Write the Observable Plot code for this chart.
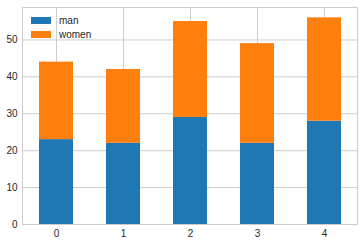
<!DOCTYPE html>
<html>
<head>
<meta charset="utf-8">
<script src="https://cdn.jsdelivr.net/npm/d3@7"></script>
<script src="https://cdn.jsdelivr.net/npm/@observablehq/plot@0.6"></script>
<style>
  html, body { margin: 0; padding: 0; background: #fff; }
  #wrap { position: relative; width: 363px; height: 244px; }
  .leg { position: absolute; left: 31px; top: 13px; font: 10px "Liberation Sans", Arial, sans-serif; color: #262626; }
  .leg div { display: flex; align-items: center; height: 14px; }
  .leg span.sw { display: inline-block; width: 20px; height: 7px; margin-right: 8px; }
</style>
</head>
<body>
<div id="wrap"></div>
<script>
const categories = ["0", "1", "2", "3", "4"];
const man = [23, 22, 29, 22, 28];
const women = [21, 20, 26, 27, 28];
const seriesNames = ["man", "women"];
const colors = ["#1f77b4", "#ff7f0e"];
const yTicks = [0, 10, 20, 30, 40, 50];

const data = [];
categories.forEach((c, i) => {
  data.push({cat: c, series: "man", value: man[i]});
  data.push({cat: c, series: "women", value: women[i]});
});

const chart = Plot.plot({
  width: 363,
  height: 244,
  marginLeft: 22,
  marginRight: 6,
  marginTop: 7,
  marginBottom: 20,
  style: {fontFamily: '"Liberation Sans", Arial, sans-serif', fontSize: "10px", color: "#262626", background: "#fff"},
  x: {domain: categories, paddingInner: 0.5, paddingOuter: 0.25, label: null},
  y: {domain: [0, 58.8], ticks: yTicks, label: null},
  color: {domain: seriesNames, range: colors},
  marks: [
    Plot.gridY(yTicks, {stroke: "#cccccc", strokeOpacity: 1, strokeWidth: 1}),
    Plot.gridX({stroke: "#cccccc", strokeOpacity: 1, strokeWidth: 1}),
    Plot.barY(data, {x: "cat", y: "value", fill: "series", order: seriesNames}),
    Plot.frame({stroke: "#cccccc", strokeWidth: 1}),
    Plot.axisY(yTicks, {tickSize: 0, tickPadding: 5, fill: "#262626", label: null}),
    Plot.axisX({tickSize: 0, tickPadding: 5, fill: "#262626", label: null})
  ]
});

const wrap = document.getElementById("wrap");
wrap.appendChild(chart);
const leg = document.createElement("div");
leg.className = "leg";
seriesNames.forEach((s, i) => {
  const row = document.createElement("div");
  const sw = document.createElement("span");
  sw.className = "sw";
  sw.style.background = colors[i];
  row.appendChild(sw);
  row.appendChild(document.createTextNode(s));
  leg.appendChild(row);
});
wrap.appendChild(leg);
</script>
</body>
</html>
